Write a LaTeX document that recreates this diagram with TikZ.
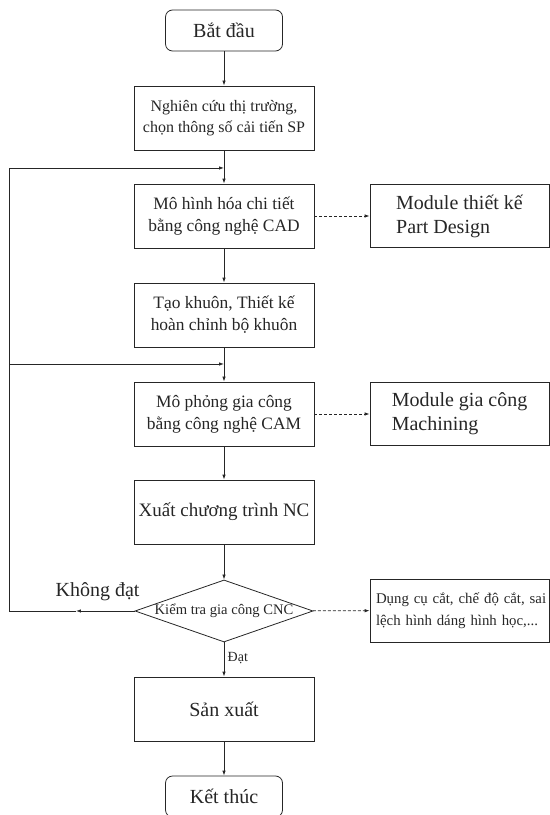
\documentclass[tikz,border=0pt]{standalone}
\usepackage{fontspec}
\setmainfont{Liberation Serif}
\usetikzlibrary{arrows.meta, shapes.geometric}

\begin{document}
\begin{tikzpicture}[line width=0.8pt, color=black!85,
  stepbox/.style={draw, minimum width=6.326cm, minimum height=2.249cm,
    inner sep=0pt, align=center, font=\fontsize{17.4}{22}\selectfont},
  term/.style={draw, rounded corners=7pt, minimum width=4.112cm,
    minimum height=1.441cm, font=\fontsize{20}{24}\selectfont},
  sidebox/.style={draw, minimum width=6.291cm, minimum height=2.214cm,
    inner sep=0pt, align=left, font=\fontsize{20}{24}\selectfont},
  decision/.style={draw, diamond, shape aspect=2.87, inner sep=0pt,
    minimum width=6.256cm, minimum height=2.179cm,
    font=\fontsize{14.6}{16}\selectfont},
  flow/.style={-{Latex[length=5pt, width=3.5pt]}},
  link/.style={flow, dash pattern=on 3pt off 2pt}]
  \useasboundingbox (0,0) rectangle (19.330,28.644);
  \clip (0,0) rectangle (19.330,28.644);

  % main column
  \node[term] (start) at (7.873,27.572) {Bắt đầu};
  \node[stepbox, font=\fontsize{16}{21}\selectfont] (market) at (7.873,24.497)
    {Nghiên cứu thị trường,\\chọn thông số cải tiến SP};
  \node[stepbox] (cad) at (7.873,21.052)
    {Mô hình hóa chi tiết\\bằng công nghệ CAD};
  \node[stepbox] (mould) at (7.873,17.573)
    {Tạo khuôn, Thiết kế\\hoàn chỉnh bộ khuôn};
  \node[stepbox] (cam) at (7.873,14.094)
    {Mô phỏng gia công\\bằng công nghệ CAM};
  \node[stepbox, font=\fontsize{19}{23}\selectfont] (nc) at (7.873,10.649)
    {Xuất chương trình NC};
  \node[decision] (check) at (7.873,7.170) {Kiểm tra gia công CNC};
  \node[stepbox, font=\fontsize{20}{24}\selectfont] (prod) at (7.873,3.725)
    {Sản xuất};
  \node[term] (stop) at (7.873,0.650) {Kết thúc};

  % side boxes
  \node[sidebox] (partdes) at (16.150,21.052) {Module thiết kế\\Part Design};
  \node[sidebox] (machin) at (16.150,14.094) {Module gia công\\Machining};
  \node[sidebox, text width=5.869cm, inner xsep=0.211cm,
    font=\fontsize{14.8}{22}\selectfont] (causes) at (16.150,7.187)
    {\mbox{Dụng cụ cắt, chế độ cắt, sai}\\\mbox{lệch hình dáng hình học,...}};

  \coordinate (j1) at (7.873,22.740);
  \coordinate (j2) at (7.873,15.851);
  \coordinate (back) at (2.671,7.170);
  \coordinate (cL) at (0.334,7.170);

  \draw[flow] (start) -- (market);
  \draw[flow] (market) -- (cad);
  \draw[flow] (cad) -- (mould);
  \draw[flow] (mould) -- (cam);
  \draw[flow] (cam) -- (nc);
  \draw[flow] (nc) -- (check);
  \draw[flow] (check) -- (prod)
    node[pos=0.45, right, font=\fontsize{14}{16}\selectfont] {Đạt};
  \draw[flow] (prod) -- (stop);

  \draw[link] (cad) -- (partdes);
  \draw[link] (cam) -- (machin);
  \draw[link] (check) -- (causes);

  % loop back
  \draw[flow] (check.west) -- (back);
  \draw[flow] (back) -- (cL) |- (j1);
  \draw[flow] (cL |- j2) -- (j2);
  \node[anchor=base, font=\fontsize{20}{24}\selectfont] (fail)
    at (3.427,7.662) {Không đạt};
\end{tikzpicture}
\end{document}
